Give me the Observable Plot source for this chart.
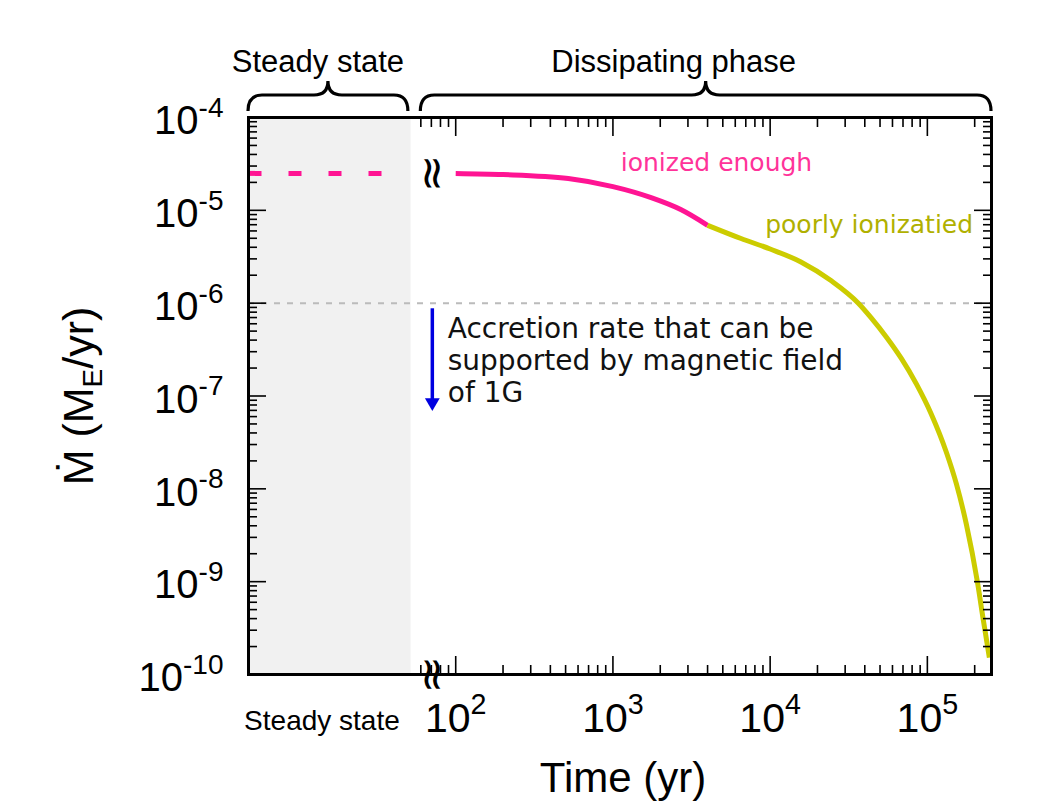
<!DOCTYPE html>
<html><head><meta charset="utf-8">
<script src="https://cdn.jsdelivr.net/npm/d3@7"></script>
<script src="https://cdn.jsdelivr.net/npm/@observablehq/plot@0.6"></script>
<style>body{margin:0;background:#fff}svg{display:block}</style>
</head><body><div id="chart"></div>
<script>
// ---- data ----
const timeDomain = [10 ** 0.682, 10 ** 5.408];      // x extent (steady-state panel + time axis)
const rateDomain = [1e-10, 1e-4];
const steadyPanelEnd = 52;                           // where the steady-state panel ends
const breakTime = 71;                                // axis break symbol
const steadyLineEnd = 35;
const steadyRate = 2.5e-5;
const fieldLimit = 1e-6;
const phaseLabels = ["Steady state", "Dissipating phase"];
const phaseStart = [10 ** 0.682, 60];
const phaseEnd = [50, 10 ** 5.408];
const phaseLabelAt = [10 ** 1.2, 10 ** 3.59];

const ionizedTime = [100, 200, 520, 1000, 1750, 2700, 4000];
const ionizedRate = [2.5e-5, 2.43e-5, 2.2e-5, 1.8e-5, 1.37e-5, 1.02e-5, 6.9e-6];
const poorTime = [4000, 6530, 10000, 15700, 24500, 36400, 43950, 54800, 68300, 85100, 106000, 132100, 153000, 177100, 208000, 227300, 248000];
const poorRate = [6.9e-6, 4.97e-6, 3.83e-6, 2.78e-6, 1.74e-6, 1.0e-6, 6.95e-7, 4.33e-7, 2.54e-7, 1.35e-7, 6.37e-8, 2.48e-8, 1.13e-8, 4.14e-9, 1.0e-9, 3.8e-10, 1.52e-10];

const xTicks = [1e2, 1e3, 1e4, 1e5];
const xTickLabels = ["10^2", "10^3", "10^4", "10^5"];
const yTicks = [1e-4, 1e-5, 1e-6, 1e-7, 1e-8, 1e-9, 1e-10];
const yTickLabels = ["10^-4", "10^-5", "10^-6", "10^-7", "10^-8", "10^-9", "10^-10"];
const xMinorFrom = 60;

const arrowX = 71, arrowTop = 8.7e-7, arrowHead = 8.5e-8;
const noteText = "Accretion rate that can be\nsupported by magnetic field\nof 1G";
const ionizedLabel = "ionized enough", poorLabel = "poorly ionizatied";

// minor tick positions (2..9 x decade)
const yMinor = [];
for (let k = -10; k < -4; k++) for (let m = 2; m <= 9; m++) yMinor.push(m * 10 ** k);
const xMinor = [];
for (let k = 1; k <= 5; k++) for (let m = 2; m <= 9; m++) { const v = m * 10 ** k; if (v >= xMinorFrom && v <= timeDomain[1]) xMinor.push(v); }

const pink = "#ff1493", olive = "#cccc00";
const ionized = ionizedTime.map((t, i) => ({t, r: ionizedRate[i]}));
const poor = poorTime.map((t, i) => ({t, r: poorRate[i]}));
const steady = [{t: timeDomain[0], r: steadyRate}, {t: steadyLineEnd, r: steadyRate}];
const fmtX = d => xTickLabels[xTicks.indexOf(d)];
const fmtY = d => yTickLabels[yTicks.indexOf(d)];
const blank = () => "";
const tk = {strokeWidth: 1.6, label: null, tickFormat: blank};
const dv = "'DejaVu Sans', sans-serif";

const chart = Plot.plot({
  width: 1038, height: 802,
  marginLeft: 248, marginRight: 47, marginTop: 117, marginBottom: 128,
  x: {type: "log", domain: timeDomain, axis: null},
  y: {type: "log", domain: rateDomain, axis: null},
  style: {fontFamily: "'Liberation Sans', Arial, sans-serif", background: "white", color: "black"},
  marks: [
    Plot.rect([0], {x1: timeDomain[0], x2: steadyPanelEnd, y1: rateDomain[0], y2: rateDomain[1], fill: "#f1f1f1"}),
    Plot.ruleY([fieldLimit], {stroke: "#bbbbbb", strokeWidth: 2, strokeDasharray: "6,7"}),
    Plot.line(steady, {x: "t", y: "r", stroke: pink, strokeWidth: 5, strokeDasharray: "13,27", strokeLinecap: "butt"}),
    Plot.line(ionized, {x: "t", y: "r", stroke: pink, strokeWidth: 5, curve: "monotone-x", strokeLinecap: "butt"}),
    Plot.line(poor, {x: "t", y: "r", stroke: olive, strokeWidth: 5, curve: "monotone-x", strokeLinecap: "butt"}),
    // arrow
    Plot.ruleX([arrowX], {y1: arrowTop, y2: arrowHead, stroke: "#0000e0", strokeWidth: 3.5}),
    Plot.dot([arrowX], {x: d => d, y: arrowHead, symbol: "triangle", rotate: 180, r: 5.5, fill: "#0000e0", stroke: null}),
    Plot.text([noteText], {x: 89, y: 7.35e-7, text: d => d, textAnchor: "start", lineAnchor: "top", lineHeight: 1.14, fontSize: 28, fontFamily: dv, fill: "#111"}),
    Plot.text([ionizedLabel], {x: 1122, y: 3.27e-5, text: d => d, textAnchor: "start", fontSize: 25, fontFamily: dv, fill: "#ff3399"}),
    Plot.text([poorLabel], {x: 9300, y: 7.0e-6, text: d => d, textAnchor: "start", fontSize: 25, fontFamily: dv, fill: "#b0b000"}),
    // break marks
    Plot.text(["≈"], {x: breakTime, y: steadyRate, text: d => d, rotate: 90, fontSize: 45, fontFamily: dv, fill: "black"}),
    Plot.text(["≈"], {x: breakTime, frameAnchor: "bottom", lineAnchor: "middle", dy: 0, text: d => d, rotate: 90, fontSize: 45, fontFamily: dv, fill: "black"}),
    Plot.frame({stroke: "black", strokeWidth: 3}),
    // ticks (inward)
    Plot.axisY(yTicks, {anchor: "left", tickSize: -18, ...tk}),
    Plot.axisY(yMinor, {anchor: "left", tickSize: -9, ...tk}),
    Plot.axisY(yTicks, {anchor: "right", tickSize: -18, ...tk}),
    Plot.axisY(yMinor, {anchor: "right", tickSize: -9, ...tk}),
    Plot.axisX(xTicks, {anchor: "bottom", tickSize: -18, ...tk}),
    Plot.axisX(xMinor, {anchor: "bottom", tickSize: -9, ...tk}),
    Plot.axisX(xTicks, {anchor: "top", tickSize: -18, ...tk}),
    Plot.axisX(xMinor, {anchor: "top", tickSize: -9, ...tk}),
    // tick labels
    Plot.axisY(yTicks, {anchor: "left", tickSize: 0, tickPadding: 25, tickFormat: fmtY, fontSize: 40, dy: 4, label: null}),
    Plot.axisX(xTicks, {anchor: "bottom", tickSize: 0, tickPadding: 28, tickFormat: fmtX, fontSize: 41, label: null}),
    // titles
    Plot.text(["Time (yr)"], {frameAnchor: "bottom", textAnchor: "middle", lineAnchor: "middle", dx: 3, dy: 104, text: d => d, fontSize: 42}),
    Plot.text(["Ṁ (M_E/yr)"], {frameAnchor: "left", textAnchor: "middle", lineAnchor: "middle", dx: -169, rotate: -90, text: d => d, fontSize: 43}),
    Plot.text(["Steady state"], {x: [phaseLabelAt[0]], frameAnchor: "bottom", textAnchor: "middle", lineAnchor: "middle", dx: -8, dy: 47, text: d => d, fontSize: 28}),
    Plot.text([phaseLabels[0]], {x: [phaseLabelAt[0]], frameAnchor: "top", textAnchor: "middle", lineAnchor: "middle", dx: -12, dy: -55, text: d => d, fontSize: 31}),
    Plot.text([phaseLabels[1]], {x: [phaseLabelAt[1]], frameAnchor: "top", textAnchor: "middle", lineAnchor: "middle", dx: -32, dy: -55, text: d => d, fontSize: 31})
  ]
});

// superscripts / subscripts
d3.select(chart).selectAll("text").each(function () {
  const t = this.textContent;
  const m = /^10\^(.+)$/.exec(t);
  const sel = d3.select(this);
  if (m) {
    sel.text(null);
    sel.append("tspan").text("10");
    sel.append("tspan").attr("font-size", "0.7em").attr("dy", "-0.62em").text(m[1]);
  } else if (t === "Ṁ (M_E/yr)") {
    sel.text(null);
    sel.append("tspan").text("Ṁ (M");
    sel.append("tspan").attr("font-size", "0.65em").attr("dy", "9").text("E");
    sel.append("tspan").attr("dy", "-9").text("/yr)");
  }
});

// curly braces above the phases
const sx = chart.scale("x"), sy = chart.scale("y");
const frameTop = sy.apply(rateDomain[1]);
const g = d3.select(chart).append("g").attr("fill", "none").attr("stroke", "black").attr("stroke-width", 3.2);
phaseStart.forEach((s, i) => {
  const x1 = sx.apply(s), x2 = sx.apply(phaseEnd[i]), xm = (x1 + x2) / 2;
  const yE = frameTop - 6, yH = frameTop - 22, yT = frameTop - 36, r = 14;
  g.append("path").attr("d",
    `M${x1},${yE} Q${x1},${yH} ${x1 + r},${yH} L${xm - r},${yH} Q${xm},${yH} ${xm},${yT} Q${xm},${yH} ${xm + r},${yH} L${x2 - r},${yH} Q${x2},${yH} ${x2},${yE}`);
});

document.getElementById("chart").append(chart);
</script>
</body></html>
